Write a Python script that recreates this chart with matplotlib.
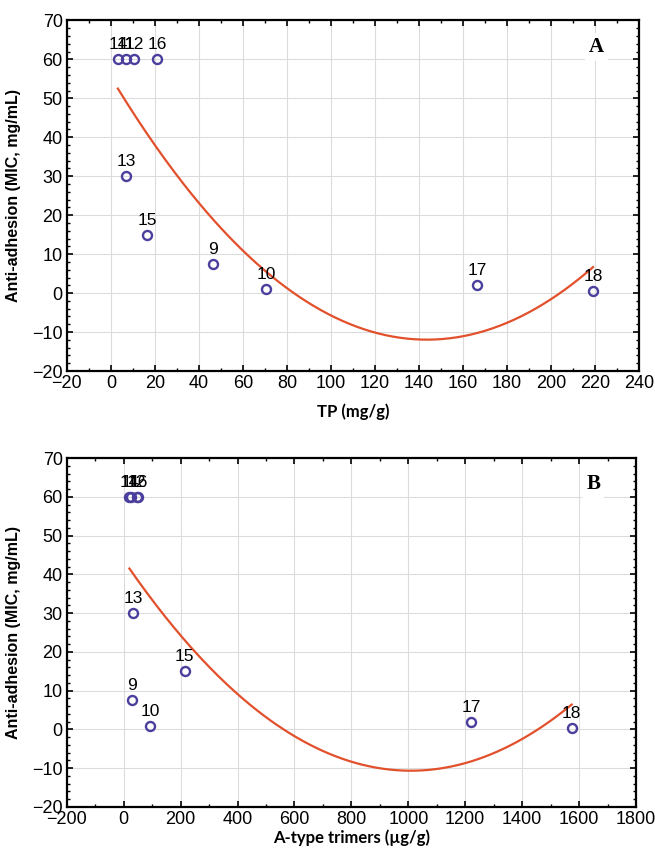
import numpy as np
import matplotlib
matplotlib.use('Agg')
import matplotlib.pyplot as plt
from matplotlib.ticker import MultipleLocator

# sample ids and anti-adhesion MIC (mg/mL)
ids = ['9', '10', '11', '12', '13', '14', '15', '16', '17', '18']
mic = [7.5, 1, 60, 60, 30, 60, 15, 60, 2, 0.5]

# total polyphenols (mg/g)
tp = [46.4, 70.5, 6.8, 10.5, 6.8, 3.2, 16.4, 20.9, 166.4, 219]

# A-type trimers (ug/g)
trimers = [28, 92, 25, 45, 34, 20, 214, 50, 1220, 1574]

rot = '#e2502c'
blau = '#4b3f9e'


def panel(ax, x, y, xlim, xstep, ystep, letter, xlabel, lpad):
    x = np.array(x)
    y = np.array(y)
    # quadratic fit over the data range
    coef = np.polyfit(x, y, 2)
    xx = np.linspace(x.min(), x.max(), 200)
    ax.plot(xx, np.polyval(coef, xx), color=rot, lw=1.6, zorder=3)
    ax.plot(x, y, 'o', mfc='none', mec=blau, mew=1.7, ms=6.5, zorder=4)
    for xi, yi, s in zip(x, y, ids):
        ax.annotate(s, (xi, yi), xytext=(0, 5), textcoords='offset points',
                    ha='center', va='bottom', fontsize=12.5,
                    family='Liberation Sans', zorder=5)
    ax.set_xlim(xlim)
    ax.set_ylim(-20, 70)
    ax.xaxis.set_major_locator(MultipleLocator(xstep))
    ax.xaxis.set_minor_locator(MultipleLocator(xstep / 2))
    ax.yaxis.set_major_locator(MultipleLocator(ystep))
    ax.yaxis.set_minor_locator(MultipleLocator(ystep / 5))
    ax.grid(True, which='major', color='#dcdcdc', lw=0.8, zorder=0)
    ax.tick_params(which='both', direction='in', top=True, right=True,
                   labelsize=13, pad=3)
    ax.tick_params(which='major', length=4, width=1.2)
    ax.tick_params(which='minor', length=2, width=1)
    for lab in ax.get_xticklabels() + ax.get_yticklabels():
        lab.set_family('Liberation Sans')
    for sp in ax.spines.values():
        sp.set_linewidth(1.6)
    ax.set_xlabel(xlabel, fontsize=12, fontweight='bold', family='Lato', labelpad=lpad)
    ax.set_ylabel('Anti-adhesion (MIC, mg/mL)', fontsize=11.5, fontweight='bold',
                  family='Liberation Sans', labelpad=8)
    ax.text(0.925, 0.925, letter, transform=ax.transAxes, ha='center', va='center',
            fontsize=15, fontweight='bold', family='Liberation Serif',
            bbox=dict(facecolor='white', edgecolor='none', pad=3), zorder=6)


fig = plt.figure(figsize=(6.55, 8.5), dpi=100)
ax1 = fig.add_axes([0.102, 0.5635, 0.874, 0.4125])
ax2 = fig.add_axes([0.102, 0.0506, 0.869, 0.4104])

panel(ax1, tp, mic, (-20, 240), 20, 10, 'A', 'TP (mg/g)', 8)
panel(ax2, trimers, mic, (-200, 1800), 200, 10, 'B', 'A-type trimers (µg/g)', 1)

fig.savefig('out.png', dpi=100)
